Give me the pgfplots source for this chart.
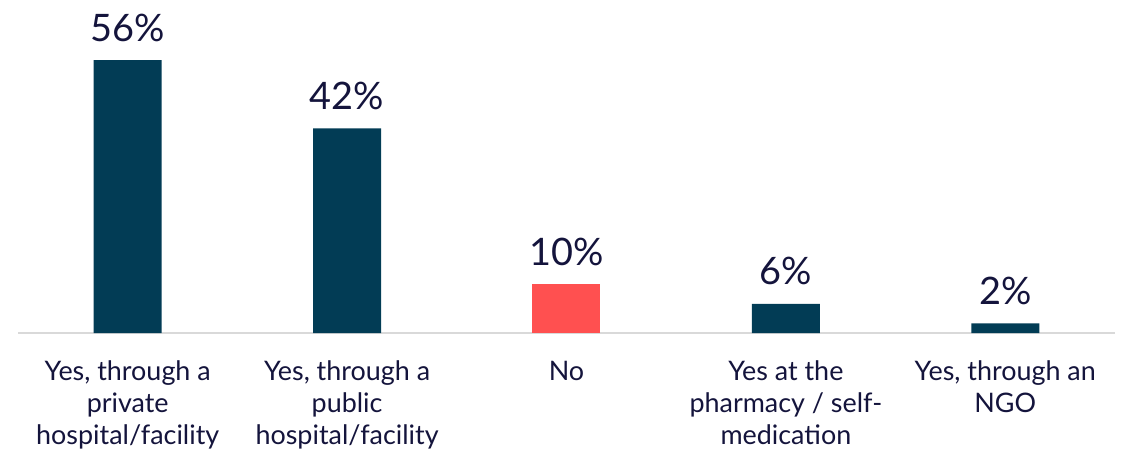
\documentclass[border=0pt]{standalone}
\usepackage{pgfplots}
\pgfplotsset{compat=1.18}
\usepackage{fontspec}
\setmainfont{Lato}
\definecolor{navy}{HTML}{023C55}
\definecolor{coral}{HTML}{FF5050}
\definecolor{ink}{HTML}{14143C}
\definecolor{rule}{HTML}{D9D9D9}
\begin{document}
\begin{tikzpicture}
\useasboundingbox (-18bp,-118bp) rectangle (1111bp,333bp);
\begin{axis}[
    scale only axis,
    width=1097bp,
    height=292.5bp,
    ybar,
    bar width=68bp,
    bar shift=0pt,
    xmin=-0.5, xmax=4.5,
    ymin=0, ymax=60,
    axis y line=none,
    axis x line*=bottom,
    x axis line style={rule, line width=1.2pt, -},
    xtick={0,1,2,3,4},
    xtick style={draw=none},
    xticklabels={{Yes, through a\\private\\hospital/facility},
                 {Yes, through a\\public\\hospital/facility},
                 {No},
                 {Yes at the\\pharmacy / self-\\medication},
                 {Yes, through an\\NGO}},
    xticklabel style={align=center, font=\fontsize{27}{32}\selectfont, text=ink, anchor=north, yshift=-20bp},
    /pgf/number format/assume math mode=true,
    nodes near coords={\pgfmathprintnumber{\pgfplotspointmeta}\%},
    every node near coord/.append style={font=\fontsize{38}{42}\selectfont, text=ink, anchor=south, yshift=15bp},
    clip=false,
]
\addplot[fill=navy, draw=none] coordinates {(0,56) (1,42) (3,6) (4,2)};
\addplot[fill=coral, draw=none] coordinates {(2,10)};
\end{axis}
\end{tikzpicture}
\end{document}
